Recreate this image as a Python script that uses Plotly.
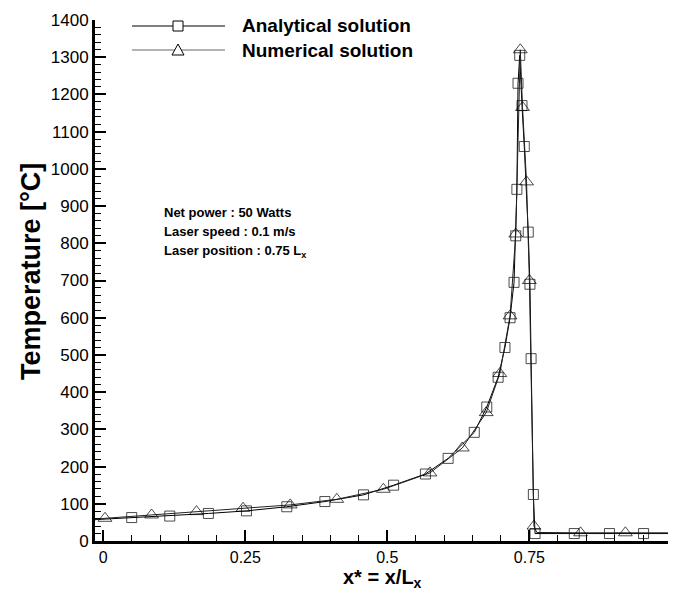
import plotly.graph_objects as go

# ---------------- data ----------------
ana_x = [-0.02, 0.050, 0.117, 0.185, 0.252, 0.323, 0.390, 0.458, 0.511, 0.567, 0.607,
         0.653, 0.675, 0.695, 0.707, 0.716, 0.723, 0.726, 0.728, 0.730, 0.733, 0.737,
         0.741, 0.748, 0.751, 0.753, 0.757, 0.760, 0.829, 0.891, 0.951, 1.01]
ana_T = [57, 63, 67, 74, 81, 92, 106, 124, 150, 180, 222,
         292, 360, 440, 520, 600, 695, 820, 945, 1230, 1305, 1170,
         1060, 830, 690, 490, 125, 20, 20, 20, 20, 20]
ana_marked = [False] + [True] * 30 + [False]

num_x = [-0.02, 0.003, 0.085, 0.164, 0.246, 0.329, 0.411, 0.493, 0.575, 0.632, 0.674,
         0.698, 0.716, 0.726, 0.734, 0.738, 0.745, 0.750, 0.758, 0.763, 0.840, 0.919, 1.01]
num_T = [56, 61, 70, 79, 88, 97, 112, 139, 183, 250, 345,
         450, 605, 825, 1320, 1165, 965, 700, 40, 23, 22, 22, 22]
num_marked = [False] + [True] * 18 + [False] + [True, True] + [False]

x_ticks = [0, 0.25, 0.5, 0.75]
x_tick_labels = ["0", "0.25", "0.5", "0.75"]
y_ticks = list(range(0, 1401, 100))

legend_names = ["Analytical solution", "Numerical solution"]
info_lines = ["Net power : 50 Watts", "Laser speed : 0.1 m/s",
              "Laser position : 0.75 L<sub>x</sub>"]
x_title = "x* = x/L<sub>x</sub>"
y_title = "Temperature [°C]"

FONT = "Liberation Sans, Arial, sans-serif"

fig = go.Figure()
fig.add_trace(go.Scatter(
    x=ana_x, y=ana_T, mode="lines+markers", name=legend_names[0],
    line=dict(color="black", width=1),
    marker=dict(symbol="square-open", size=[10 if m else 0 for m in ana_marked],
                color="black", line=dict(width=1)),
    showlegend=False))
fig.add_trace(go.Scatter(
    x=num_x, y=num_T, mode="lines+markers", name=legend_names[1],
    line=dict(color="#222222", width=1),
    marker=dict(symbol="triangle-up-open", size=[12 if m else 0 for m in num_marked],
                color="black", line=dict(width=1)),
    showlegend=False))

# plot area geometry (pixels)
L, R, T, B = 95, 7, 20, 51
W, H = 675, 592
pw, ph = W - L - R, H - T - B

def px(xp):
    return (xp - L) / pw

def py(yp):
    return (H - B - yp) / ph

shapes = []
annos = []
# custom legend
leg_rows = [26, 50]
for i, yr in enumerate(leg_rows):
    shapes.append(dict(type="line", xref="paper", yref="paper",
                       x0=px(132), x1=px(225), y0=py(yr), y1=py(yr),
                       line=dict(color="black" if i == 0 else "#666666", width=1)))
    if i == 0:
        shapes.append(dict(type="rect", xref="paper", yref="paper",
                           xsizemode="pixel", ysizemode="pixel",
                           xanchor=px(178), yanchor=py(yr),
                           x0=-5, x1=5, y0=-5, y1=5,
                           fillcolor="white", line=dict(color="black", width=1)))
    else:
        shapes.append(dict(type="path", xref="paper", yref="paper",
                           xsizemode="pixel", ysizemode="pixel",
                           xanchor=px(178), yanchor=py(yr),
                           path="M -6,-5 L 6,-5 L 0,6 Z",
                           fillcolor="white", line=dict(color="black", width=1)))
    annos.append(dict(xref="paper", yref="paper", x=px(240), y=py(yr),
                      xanchor="left", yanchor="middle", showarrow=False,
                      text="<b>%s</b>" % legend_names[i],
                      font=dict(family=FONT, size=19, color="black")))

for i, t in enumerate(info_lines):
    annos.append(dict(xref="paper", yref="paper", x=px(162), y=py(213 + 19 * i),
                      xanchor="left", yanchor="middle", showarrow=False,
                      text="<b>%s</b>" % t,
                      font=dict(family=FONT, size=13, color="black")))

# axis titles
annos.append(dict(xref="paper", yref="paper", x=px(382), y=py(592),
                  xanchor="center", yanchor="bottom", showarrow=False,
                  borderpad=0,
                  text="<b>%s</b>" % x_title,
                  font=dict(family=FONT, size=20, color="black")))
annos.append(dict(xref="paper", yref="paper", x=px(31), y=py(272),
                  xanchor="center", yanchor="middle", showarrow=False,
                  textangle=-90, text="<b>%s</b>" % y_title,
                  font=dict(family=FONT, size=27, color="black")))

fig.update_layout(
    width=W, height=H,
    margin=dict(l=L, r=R, t=T, b=B, pad=0, autoexpand=False),
    paper_bgcolor="white", plot_bgcolor="white",
    font=dict(family=FONT, size=17, color="black"),
    shapes=shapes, annotations=annos,
    xaxis=dict(range=[-0.0146, 0.994], tickvals=x_ticks, ticktext=x_tick_labels,
               ticks="inside", ticklen=11, tickwidth=2, tickcolor="black",
               showline=True, linecolor="black", linewidth=3, mirror=False,
               showgrid=False, zeroline=False, automargin=False,
               tickfont=dict(family=FONT, size=16),
               minor=dict(dtick=0.05, tick0=0, ticks="inside", ticklen=6,
                          tickwidth=1, tickcolor="black", showgrid=False)),
    yaxis=dict(range=[0, 1400], tickvals=y_ticks,
               ticks="inside", ticklen=11, tickwidth=2, tickcolor="black",
               showline=True, linecolor="black", linewidth=3, mirror=False,
               showgrid=False, zeroline=False, automargin=False,
               tickfont=dict(family=FONT, size=17),
               minor=dict(dtick=20, tick0=0, ticks="inside", ticklen=6,
                          tickwidth=1, tickcolor="black", showgrid=False)),
)

fig.write_html("out.html")
